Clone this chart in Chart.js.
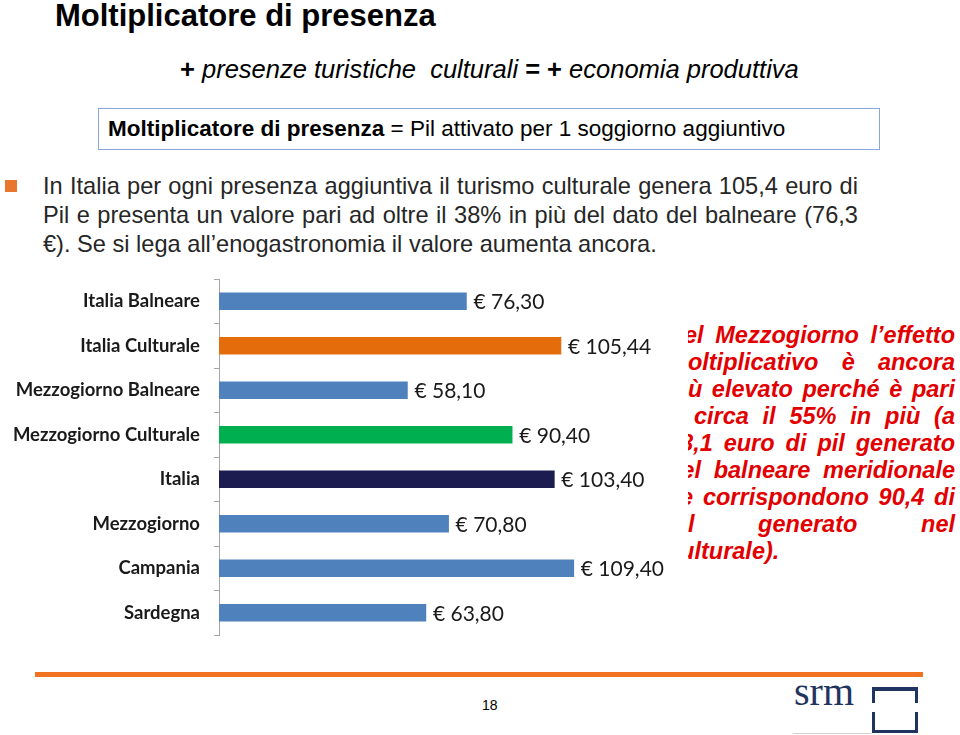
<!DOCTYPE html>
<html>
<head>
<meta charset="utf-8">
<script src="https://cdn.jsdelivr.net/npm/chart.js@4"></script>
<style>
  html, body { margin: 0; padding: 0; background: #fff; }
  body { width: 960px; height: 735px; position: relative; overflow: hidden; font-family: "Liberation Sans", Arial, sans-serif; }
  .abs { position: absolute; white-space: nowrap; }
  #title { left: 55px; top: 0px; font-size: 31px; line-height: 31px; font-weight: bold; color: #000; }
  #subtitle { left: 180px; top: 54px; font-size: 25.5px; line-height: 30px; font-style: italic; color: #000; }
  #subtitle b { font-style: normal; }
  #defbox { left: 98px; top: 108px; width: 780px; height: 40px; border: 1.5px solid #8aa6dc; }
  #defbox span { position: absolute; left: 9px; top: 7px; font-size: 22.5px; line-height: 26px; }
  #bullet { left: 5px; top: 180px; width: 12px; height: 12px; background: #e8762c; }
  #para { left: 43px; top: 172px; width: 815px; font-size: 23.6px; line-height: 29px; color: #262626; }
  .jl { text-align: justify; text-align-last: justify; white-space: nowrap; }
  #note-clip { left: 688px; top: 322px; width: 272px; height: 250px; overflow: hidden; }
  #note { position: absolute; left: -21px; top: 0; width: 288px; font-size: 23.5px; line-height: 27px; font-weight: bold; font-style: italic; color: #e20000; }
  #chartBox { left: 0; top: 270px; width: 690px; height: 375px; }
  #rule { left: 35px; top: 672px; width: 888px; height: 5px; background: #f07322; }
  #pnum { left: 482px; top: 697px; font-size: 14px; line-height: 16px; color: #000; }
  #srm { left: 794px; top: 674px; font-family: "Liberation Serif", "DejaVu Serif", serif; font-size: 40px; line-height: 36px; color: #1f3560; }
  .lg { position: absolute; background: #1f3560; }
  #srmline { left: 793px; top: 733px; width: 78px; height: 1px; background: #d0d0d0; }
</style>
</head>
<body>
<div id="title" class="abs">Moltiplicatore di presenza</div>
<div id="subtitle" class="abs"><b>+</b> presenze turistiche&nbsp; culturali <b>= +</b> economia produttiva</div>
<div id="defbox" class="abs"><span><b>Moltiplicatore di presenza</b> = Pil attivato per 1 soggiorno aggiuntivo</span></div>

<div id="bullet" class="abs"></div>
<div id="para" class="abs">
  <div class="jl">In Italia per ogni presenza aggiuntiva il turismo culturale genera 105,4 euro di</div>
  <div class="jl">Pil e presenta un valore pari ad oltre il 38% in più del dato del balneare (76,3</div>
  <div>€). Se si lega all’enogastronomia il valore aumenta ancora.</div>
</div>

<div id="note-clip" class="abs">
  <div id="note">
    <div class="jl">Nel Mezzogiorno l’effetto</div>
    <div class="jl">moltiplicativo è ancora</div>
    <div class="jl">più elevato perché è pari</div>
    <div class="jl">a circa il 55% in più (a</div>
    <div class="jl">58,1 euro di pil generato</div>
    <div class="jl">nel balneare meridionale</div>
    <div class="jl">se corrispondono 90,4 di</div>
    <div class="jl">pil generato nel</div>
    <div>culturale).</div>
  </div>
</div>

<div id="chartBox" class="abs"><canvas id="barChart" width="690" height="375"></canvas></div>

<div id="rule" class="abs"></div>
<div id="pnum" class="abs">18</div>
<div id="srm" class="abs">srm</div>
<div class="lg" style="left:872px;top:687px;width:46px;height:4px;"></div>
<div class="lg" style="left:872px;top:687px;width:3px;height:16px;"></div>
<div class="lg" style="left:915px;top:687px;width:3px;height:16px;"></div>
<div class="lg" style="left:872px;top:712px;width:3px;height:21px;"></div>
<div class="lg" style="left:915px;top:712px;width:3px;height:21px;"></div>
<div class="lg" style="left:872px;top:730px;width:46px;height:3px;"></div>
<div id="srmline" class="abs"></div>

<script>
// --- data ---
const categories = ['Italia Balneare', 'Italia Culturale', 'Mezzogiorno Balneare', 'Mezzogiorno Culturale',
                    'Italia', 'Mezzogiorno', 'Campania', 'Sardegna'];
const pilValues = [76.30, 105.44, 58.10, 90.40, 103.40, 70.80, 109.40, 63.80];
const barColors = ['#4f81bd', '#e46c0a', '#4f81bd', '#00b050', '#1c1c50', '#4f81bd', '#4f81bd', '#4f81bd'];

const axisGray = '#a6a6a6';

// draws "€ 76,30" next to each bar end
const valueLabels = {
    id: 'valueLabels',
    afterDatasetsDraw(chart) {
        const ctx = chart.ctx;
        const meta = chart.getDatasetMeta(0);
        ctx.save();
        ctx.font = '21px Lato, "Open Sans", sans-serif';
        ctx.fillStyle = '#1a1a1a';
        ctx.textAlign = 'left';
        ctx.textBaseline = 'middle';
        meta.data.forEach((bar, i) => {
            const txt = '€ ' + pilValues[i].toFixed(2).replace('.', ',');
            ctx.fillText(txt, bar.x + 7, bar.y + 1);
        });
        ctx.restore();
    }
};

document.addEventListener('DOMContentLoaded', () => {
    const ctx = document.getElementById('barChart').getContext('2d');
    new Chart(ctx, {
        type: 'bar',
        data: {
            labels: categories,
            datasets: [{
                data: pilValues,
                backgroundColor: barColors,
                borderWidth: 0,
                barThickness: 17
            }]
        },
        options: {
            indexAxis: 'y',
            responsive: false,
            animation: false,
            layout: { padding: { top: 9, bottom: 10, left: 0, right: 17 } },
            scales: {
                x: { display: false, min: 0, max: 140 },
                y: {
                    // fixed label column, no extra label padding above/below
                    afterFit: (scale) => {
                        scale.width = 219;
                        scale.paddingTop = 0;
                        scale.paddingBottom = 0;
                    },
                    border: { display: true, color: axisGray, width: 1 },
                    grid: { drawOnChartArea: false, drawTicks: true, tickLength: 5, color: axisGray, offset: true },
                    ticks: {
                        padding: 14,
                        color: '#1a1a1a',
                        font: { family: 'Lato, "Open Sans", sans-serif', size: 18.5, weight: 'bold' }
                    }
                }
            },
            plugins: {
                legend: { display: false },
                tooltip: { enabled: false }
            }
        },
        plugins: [valueLabels]
    });
});
</script>
</body>
</html>
